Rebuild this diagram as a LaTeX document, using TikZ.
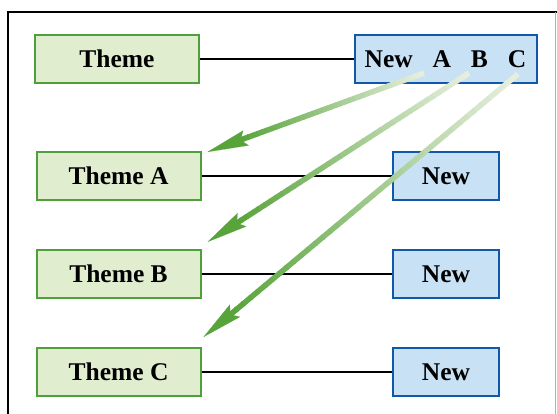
\documentclass[tikz,border=0pt]{standalone}
\usepackage{fontspec}
\setmainfont{Liberation Serif}
\usetikzlibrary{arrows.meta,calc}
\definecolor{gborder}{RGB}{77,160,58}
\definecolor{gfill}{RGB}{224,237,207}
\definecolor{bborder}{RGB}{18,88,168}
\definecolor{bfill}{RGB}{200,225,244}
\definecolor{arlight}{RGB}{230,239,222}
\definecolor{ardark}{RGB}{88,164,58}
\newcommand\gradarrow[2]{%
  \coordinate (#2h) at ($(#2)!34pt!(#1)$);
  \draw[-{Stealth[length=41pt,width=16pt,inset=6pt]}, draw=ardark, fill=ardark, line width=0.1pt]
    ($(#2)!46pt!(#1)$) -- (#2);
  \foreach \i in {0,...,39}{%
    \pgfmathsetmacro\pa{\i/40}%
    \pgfmathsetmacro\pb{(\i+1.15)/40}%
    \pgfmathtruncatemacro\pc{100*\i/39}%
    \draw[line width=5.5pt, draw=ardark!\pc!arlight] ($(#1)!\pa!(#2h)$) -- ($(#1)!\pb!(#2h)$);
  }%
}
\begin{document}
\begin{tikzpicture}[x=1pt,y=-1pt,
  lbl/.style={font=\fontsize{25.5}{30}\selectfont\bfseries, text height=17pt, text depth=0pt, inner sep=0pt},
  themebox/.style={lbl, draw=gborder, fill=gfill, line width=2pt, minimum height=48pt},
  newbox/.style={lbl, draw=bborder, fill=bfill, line width=2pt, minimum height=48pt},
  conn/.style={draw=black, line width=2pt}]
\useasboundingbox (0,0) rectangle (557,414);
\clip (0,0) rectangle (557,414);
\draw[line width=2pt] (557,12) -- (8,12) -- (8,440);
\draw[line width=1pt, black!30] (555.5,12) -- (555.5,440);
% nodes
\node[themebox, minimum width=164pt] (t0) at (117,59) {Theme};
\node[newbox, minimum width=182pt] (n0) at (445.5,59) {New\hspace{0.78em}A\hspace{0.78em}B\hspace{0.78em}C};
\node[themebox, minimum width=164pt] (t1) at (118.5,176) {Theme A};
\node[newbox, minimum width=106pt] (n1) at (446,176) {New};
\node[themebox, minimum width=164pt] (t2) at (118.5,274) {Theme B};
\node[newbox, minimum width=106pt] (n2) at (446,274) {New};
\node[themebox, minimum width=164pt] (t3) at (118.5,372) {Theme C};
\node[newbox, minimum width=106pt] (n3) at (446,372) {New};
% connectors
\draw[conn] (t0) -- (n0);
\draw[conn] (t1) -- (n1);
\draw[conn] (t2) -- (n2);
\draw[conn] (t3) -- (n3);
% arrow ends
\coordinate (sA) at (424,73);
\coordinate (sB) at (469,73);
\coordinate (sC) at (518,74);
\coordinate (eA) at ($(t1.north east)+(6,1)$);
\coordinate (eB) at ($(t2.north east)+(6,-7)$);
\coordinate (eC) at ($(t3.north east)+(2,-10)$);
\gradarrow{sA}{eA}
\gradarrow{sB}{eB}
\gradarrow{sC}{eC}
\end{tikzpicture}
\end{document}
